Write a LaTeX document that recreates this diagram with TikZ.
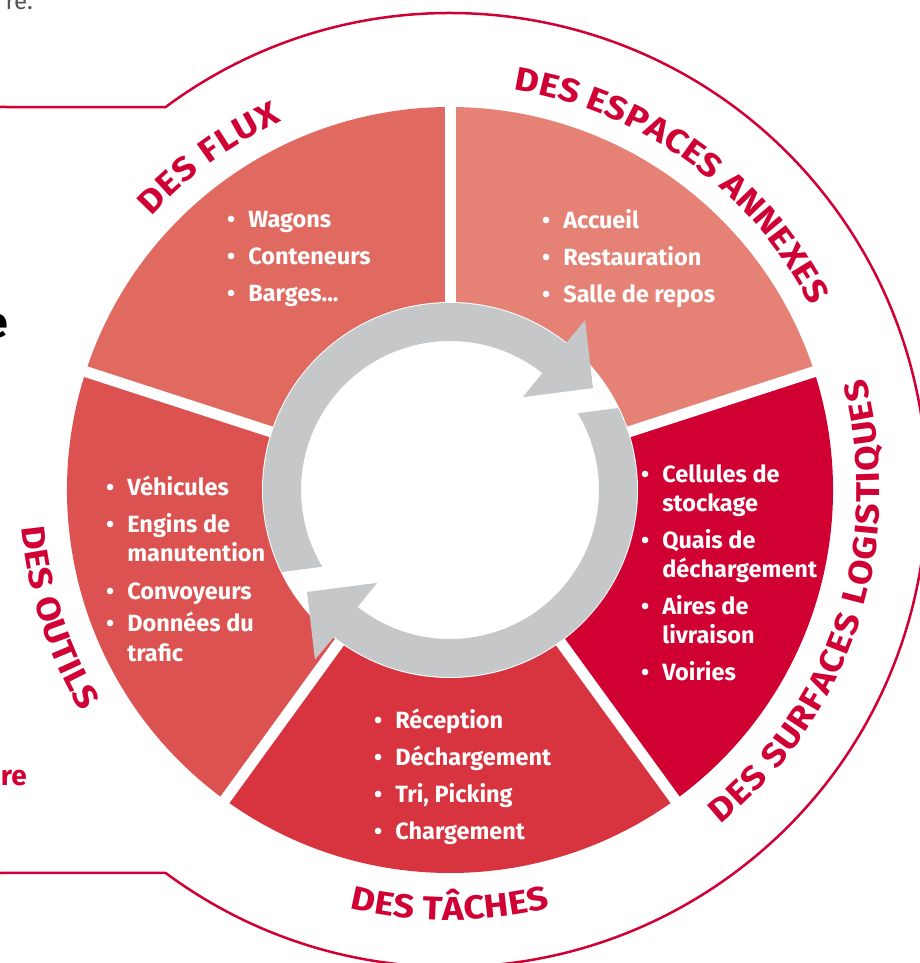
\documentclass[tikz,border=0pt]{standalone}
\usepackage{fontspec}
\setmainfont{Fira Sans}
\newfontfamily\headfamily[FakeStretch=1.12]{Fira Sans}
\usetikzlibrary{decorations.text}
\definecolor{MyCrimson}{HTML}{D00034}
\definecolor{MyFlux}{HTML}{E06A60}
\definecolor{MyEspaces}{HTML}{E58275}
\definecolor{MySurfaces}{HTML}{D00032}
\definecolor{MyTaches}{HTML}{D83440}
\definecolor{MyOutils}{HTML}{DC5250}
\definecolor{MyGrey}{HTML}{C6C7C9}
\definecolor{MyText}{HTML}{555555}

\newcommand{\headfont}{\headfamily\fontsize{33}{33}\selectfont\bfseries}
\newcommand{\listfont}{\fontsize{23.5}{29}\selectfont\bfseries}

\begin{document}
\begin{tikzpicture}[x=1pt, y=1pt,
	list/.style={anchor=base west, inner sep=0, text=white, font=\listfont},
	heading/.style={decorate, decoration={text along path, text align={fit to path}, text color=MyCrimson, text={|\headfont|#1}}},
	cycle arrow/.pic={
		\fill[MyGrey] (206:187) arc[start angle=206, end angle=51.7, radius=187]
			-- (51.5:217) -- (35.5:175.6) -- (51.9:118) -- (51.7:149)
			arc[start angle=51.7, end angle=211, radius=149] -- cycle;
	}]
	\useasboundingbox (-450,-473) rectangle (469,490);
	
	% the five sectors
	\foreach \a/\col in {18/MyEspaces, 90/MyFlux, 162/MyOutils, 234/MyTaches, 306/MySurfaces}
		\fill[\col] (0,0) -- (\a:383) arc[start angle=\a, end angle=\a+72, radius=383] -- cycle;
	
	\foreach \a in {18, 90, 162, 234, 306}
		\draw[white, line width=11pt] (0,0) -- (\a:400);
	
	\fill[white] (0,0) circle (188);
	
	% grey cycle in the middle
	\pic {cycle arrow};
	\pic[rotate=180] {cycle arrow};
	
	% outer frame
	\draw[MyCrimson, line width=2.5pt] (-460,383) -- (126.6:477) arc[start angle=126.6, end angle=-126.6, radius=477] -- (-460,-383);
	
	% titles round the wheel
	\path[heading={DES FLUX}] (137.5:405) arc[start angle=137.5, end angle=114.5, radius=405];
	\path[heading={DES ESPACES ANNEXES}] (81:405) arc[start angle=81, end angle=27, radius=405];
	\path[heading={DES SURFACES LOGISTIQUES}] (-51:430) arc[start angle=-51, end angle=15, radius=430];
	\path[heading={DES TÂCHES}] (-103.5:430) arc[start angle=-103.5, end angle=-76.5, radius=430];
	\path[heading={DES OUTILS}] (185:430) arc[start angle=185, end angle=211, radius=430];
	
	% lists
	\node[list] (fluxlist) at (-223,262) {\begin{tabular}[t]{@{}l@{\hspace{13pt}}l@{}}
		\textbullet & Wagons\\[8pt]
		\textbullet & Conteneurs\\[8pt]
		\textbullet & Barges...
	\end{tabular}};
	\node[list] (espaceslist) at (92,261) {\begin{tabular}[t]{@{}l@{\hspace{13pt}}l@{}}
		\textbullet & Accueil\\[8pt]
		\textbullet & Restauration\\[8pt]
		\textbullet & Salle de repos
	\end{tabular}};
	\node[list] (surfaceslist) at (191,7) {\begin{tabular}[t]{@{}l@{\hspace{13pt}}l@{}}
		\textbullet & Cellules de\\
		& stockage\\[8pt]
		\textbullet & Quais de\\
		& déchargement\\[8pt]
		\textbullet & Aires de\\
		& livraison\\[8pt]
		\textbullet & Voiries
	\end{tabular}};
	\node[list] (tacheslist) at (-76,-238) {\begin{tabular}[t]{@{}l@{\hspace{13pt}}l@{}}
		\textbullet & Réception\\[8pt]
		\textbullet & Déchargement\\[8pt]
		\textbullet & Tri, Picking\\[8pt]
		\textbullet & Chargement
	\end{tabular}};
	\node[list] (outilslist) at (-344,-6) {\begin{tabular}[t]{@{}l@{\hspace{13pt}}l@{}}
		\textbullet & Véhicules\\[8pt]
		\textbullet & Engins de\\
		& manutention\\[8pt]
		\textbullet & Convoyeurs\\[4pt]
		\textbullet & Données du\\
		& trafic
	\end{tabular}};
	
	% text running in from the page on the left
	\node[anchor=base east, inner sep=0, text=MyText, font=\fontsize{24}{24}\selectfont] (pagetext) at (-417,480) {re.};
	\node[anchor=base east, inner sep=0, font=\fontsize{43}{43}\selectfont\bfseries] (pagehead) at (-442,152) {e};
	\node[anchor=base east, inner sep=0, text=MyCrimson, font=\fontsize{28}{28}\selectfont\bfseries] (pagenote) at (-423,-295) {re};
\end{tikzpicture}
\end{document}
